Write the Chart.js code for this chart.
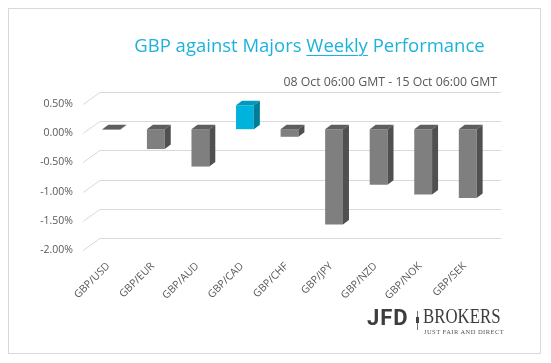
<!DOCTYPE html>
<html>
<head>
<meta charset="utf-8">
<script src="https://cdn.jsdelivr.net/npm/chart.js@4.4.0/dist/chart.umd.min.js"></script>
<style>
  html, body { margin: 0; padding: 0; background: #fff; }
  #wrap { position: relative; width: 551px; height: 363px; overflow: hidden; }
  #frame { position: absolute; left: 8px; top: 8px; width: 533px; height: 346px; border: 1px solid #d9d9d9; box-sizing: border-box; }
  canvas { position: absolute; left: 0; top: 0; }
  .title { position: absolute; left: 0; width: 619px; top: 32px; text-align: center; font: 18.5px "Open Sans", sans-serif; color: #1cb2dc; white-space: nowrap; }
  .title u { text-decoration-thickness: 1px; text-underline-offset: 3px; }
  .sub { position: absolute; right: 54px; top: 73px; font: 12.3px "Open Sans", sans-serif; color: #595959; white-space: nowrap; }
  .jfd { position: absolute; left: 367px; top: 305px; font: bold 22px Roboto, sans-serif; color: #3d3d3d; letter-spacing: 1px; }
  .sep { position: absolute; left: 417px; top: 311px; width: 1px; height: 19px; background: #777; }
  .sep2 { position: absolute; left: 416px; top: 317px; width: 3px; height: 6px; background: #444; }
  .brk { position: absolute; left: 423px; top: 305px; font: 20px "Liberation Serif", serif; color: #3d3d3d; transform: scaleX(0.84); transform-origin: left top; }
  .tag { position: absolute; left: 424px; top: 328px; font: 6.5px "Liberation Serif", serif; color: #555; letter-spacing: 0.45px; white-space: nowrap; }
</style>
</head>
<body>
<div id="wrap">
  <div id="frame"></div>
  <canvas id="c" width="551" height="363"></canvas>
  <div class="title">GBP against Majors <u>Weekly</u> Performance</div>
  <div class="sub">08 Oct 06:00 GMT - 15 Oct 06:00 GMT</div>
  <div class="jfd">JFD</div>
  <div class="sep"></div><div class="sep2"></div>
  <div class="brk">BROKERS</div>
  <div class="tag">JUST FAIR AND DIRECT</div>
</div>
<script>
const pairs = ['GBP/USD', 'GBP/EUR', 'GBP/AUD', 'GBP/CAD', 'GBP/CHF', 'GBP/JPY', 'GBP/NZD', 'GBP/NOK', 'GBP/SEK'];
const changes = [-0.01, -0.34, -0.64, 0.41, -0.13, -1.63, -0.95, -1.12, -1.18];
const yTicks = [0.5, 0, -0.5, -1, -1.5, -2];

// colours: front / top / side
const grey = ['#7f7f7f', '#5e5e5e', '#505050'];
const blue = ['#00b3dd', '#0099bd', '#007c97'];
const colorsFor = v => v > 0 ? blue : grey;

// bar plane offset inside the 3d box, and bar depth
const SHIFT = { x: 6, y: -4 };
const DEPTH = { x: 6, y: -4.5 };
// back wall offset for gridlines
const WALL = { x: 17, y: -12 };

const bars3d = {
  id: 'bars3d',
  beforeDatasetsDraw(chart) {
    const { ctx, chartArea: a } = chart;
    const ys = chart.scales.y;
    ctx.save();
    ctx.strokeStyle = '#d9d9d9';
    ctx.lineWidth = 1;
    yTicks.forEach(v => {
      const y = Math.round(ys.getPixelForValue(v)) + 0.5;
      ctx.beginPath();
      ctx.moveTo(a.left, y);
      ctx.lineTo(a.left + WALL.x, y + WALL.y);
      ctx.lineTo(a.right + WALL.x, y + WALL.y);
      ctx.stroke();
    });
    ctx.restore();
    ctx.save();
    ctx.translate(SHIFT.x, SHIFT.y);
  },
  afterDatasetsDraw(chart) {
    const { ctx } = chart;
    const meta = chart.getDatasetMeta(0);
    meta.data.forEach((bar, i) => {
      const p = bar.getProps(['x', 'y', 'base', 'width'], true);
      const x0 = p.x - p.width / 2, x1 = p.x + p.width / 2;
      const top = Math.min(p.y, p.base), bot = Math.max(p.y, p.base);
      const c = colorsFor(changes[i]);
      ctx.fillStyle = c[1];
      ctx.beginPath();
      ctx.moveTo(x0, top);
      ctx.lineTo(x1, top);
      ctx.lineTo(x1 + DEPTH.x, top + DEPTH.y);
      ctx.lineTo(x0 + DEPTH.x, top + DEPTH.y);
      ctx.closePath();
      ctx.fill();
      ctx.fillStyle = c[2];
      ctx.beginPath();
      ctx.moveTo(x1, top);
      ctx.lineTo(x1 + DEPTH.x, top + DEPTH.y);
      ctx.lineTo(x1 + DEPTH.x, bot + DEPTH.y);
      ctx.lineTo(x1, bot);
      ctx.closePath();
      ctx.fill();
    });
    ctx.restore();
  }
};

new Chart(document.getElementById('c'), {
  type: 'bar',
  data: {
    labels: pairs,
    datasets: [{
      data: changes,
      backgroundColor: changes.map(v => colorsFor(v)[0]),
      borderWidth: 0,
      categoryPercentage: 1,
      barPercentage: 0.4
    }]
  },
  options: {
    responsive: false,
    animation: false,
    devicePixelRatio: 1,
    layout: { padding: { left: 0, right: 67, top: 104, bottom: 33 } },
    plugins: { legend: { display: false }, tooltip: { enabled: false }, title: { display: false } },
    scales: {
      x: {
        grid: { display: false, drawTicks: false },
        border: { display: false },
        ticks: { color: '#595959', font: { family: 'Open Sans', size: 10.5 }, minRotation: 45, maxRotation: 45, padding: 10, labelOffset: 3 },
        afterFit(s) { s.height = 80; }
      },
      y: {
        min: -2, max: 0.5,
        grid: { display: false, drawTicks: false },
        border: { display: false },
        afterBuildTicks(s) { s.ticks = yTicks.map(v => ({ value: v })); },
        ticks: {
          color: '#595959',
          font: { family: 'Open Sans', size: 10.5 },
          padding: 10,
          callback: v => v.toFixed(2) + '%'
        },
        afterFit(s) { s.width = 83; }
      }
    }
  },
  plugins: [bars3d]
});
</script>
</body>
</html>
